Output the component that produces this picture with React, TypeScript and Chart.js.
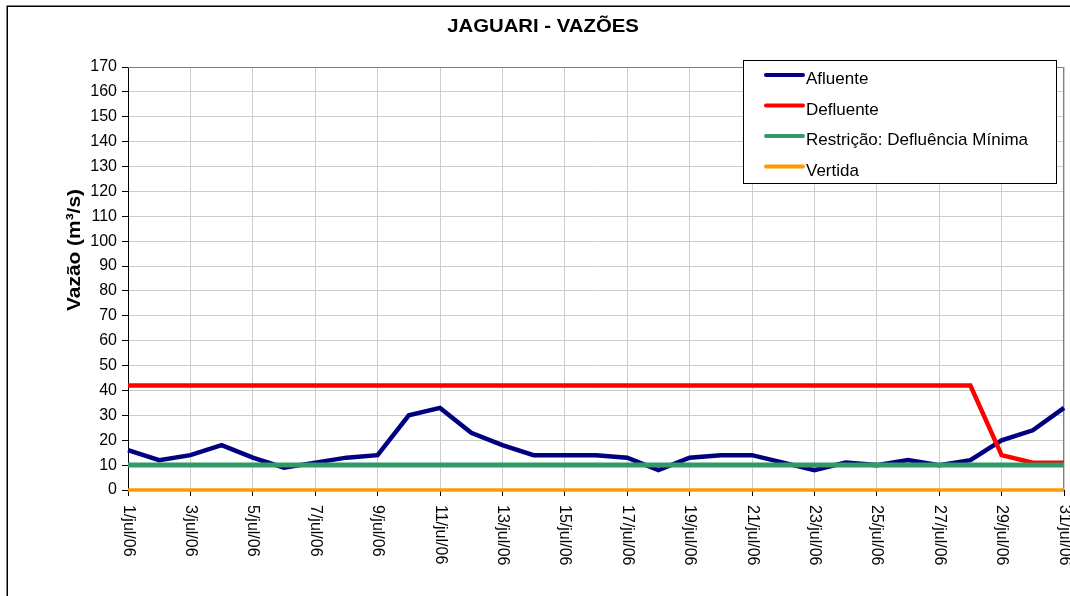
import React, { useEffect, useRef } from "react";
import { Chart, registerables } from "chart.js";

Chart.register(...registerables);

const TITLE = "JAGUARI - VAZÕES";
const Y_TITLE = "Vazão (m³/s)";

const dates = [
  "1/jul/06", "2/jul/06", "3/jul/06", "4/jul/06", "5/jul/06", "6/jul/06", "7/jul/06", "8/jul/06",
  "9/jul/06", "10/jul/06", "11/jul/06", "12/jul/06", "13/jul/06", "14/jul/06", "15/jul/06", "16/jul/06",
  "17/jul/06", "18/jul/06", "19/jul/06", "20/jul/06", "21/jul/06", "22/jul/06", "23/jul/06", "24/jul/06",
  "25/jul/06", "26/jul/06", "27/jul/06", "28/jul/06", "29/jul/06", "30/jul/06", "31/jul/06",
];

const afluente = [16, 12, 14, 18, 13, 9, 11, 13, 14, 30, 33, 23, 18, 14, 14, 14, 13, 8, 13, 14, 14, 11, 8, 11, 10, 12, 10, 12, 20, 24, 33];
const defluente = [42, 42, 42, 42, 42, 42, 42, 42, 42, 42, 42, 42, 42, 42, 42, 42, 42, 42, 42, 42, 42, 42, 42, 42, 42, 42, 42, 42, 14, 11, 11];
const restricao = [10, 10, 10, 10, 10, 10, 10, 10, 10, 10, 10, 10, 10, 10, 10, 10, 10, 10, 10, 10, 10, 10, 10, 10, 10, 10, 10, 10, 10, 10, 10];
const vertida = [0, 0, 0, 0, 0, 0, 0, 0, 0, 0, 0, 0, 0, 0, 0, 0, 0, 0, 0, 0, 0, 0, 0, 0, 0, 0, 0, 0, 0, 0, 0];

const seriesNames = ["Afluente", "Defluente", "Restrição: Defluência Mínima", "Vertida"];
const seriesColors = ["#000080", "#FF0000", "#339966", "#FF9900"];

const Y_MIN = 0;
const Y_MAX = 170;
const Y_STEP = 10;

const FONT = "'Liberation Sans', Arial, sans-serif";

function drawText(
  ctx: CanvasRenderingContext2D,
  text: string,
  x: number,
  y: number,
  opts: { font: string; align?: CanvasTextAlign; baseline?: CanvasTextBaseline; rotate?: number; scaleX?: number }
) {
  ctx.save();
  ctx.translate(x, y);
  if (opts.rotate) ctx.rotate(opts.rotate);
  if (opts.scaleX) ctx.scale(opts.scaleX, 1);
  ctx.font = opts.font;
  ctx.fillStyle = "#000";
  ctx.textAlign = opts.align || "left";
  ctx.textBaseline = opts.baseline || "alphabetic";
  ctx.fillText(text, 0, 0);
  ctx.restore();
}

const decorPlugin = {
  id: "decor",
  beforeDatasetsDraw(chart: any) {
    const { ctx, chartArea } = chart;
    ctx.save();
    ctx.strokeStyle = "#808080";
    ctx.lineWidth = 1;
    ctx.beginPath();
    ctx.moveTo(chartArea.left, chartArea.top + 0.5);
    ctx.lineTo(chartArea.right - 0.5, chartArea.top + 0.5);
    ctx.lineTo(chartArea.right - 0.5, chartArea.bottom);
    ctx.stroke();
    ctx.restore();
  },
  afterDraw(chart: any) {
    const { ctx } = chart;
    const xScale = chart.scales.x;

    // outer chart frame
    ctx.save();
    ctx.strokeStyle = "#000";
    ctx.lineWidth = 1.5;
    ctx.strokeRect(7.25, 6.25, 1100, 700);
    ctx.restore();

    // title
    drawText(ctx, TITLE, 543, 32, { font: `bold 18px ${FONT}`, align: "center", scaleX: 1.13 });

    // y axis title
    drawText(ctx, Y_TITLE, 80, 250, {
      font: `bold 19px ${FONT}`,
      align: "center",
      rotate: -Math.PI / 2,
      scaleX: 1.1,
    });

    // x tick labels (rotated downward)
    dates.forEach((d, i) => {
      if (i % 2 !== 0) return;
      const x = xScale.getPixelForValue(i);
      drawText(ctx, d, x, 505, { font: `16px ${FONT}`, align: "left", baseline: "middle", rotate: Math.PI / 2 });
    });

    // legend
    const lx = 743.5, ly = 60.5, lw = 313, lh = 123;
    ctx.save();
    ctx.fillStyle = "#fff";
    ctx.fillRect(lx, ly, lw, lh);
    ctx.strokeStyle = "#000";
    ctx.lineWidth = 1;
    ctx.strokeRect(lx, ly, lw, lh);
    ctx.restore();
    seriesNames.forEach((name, i) => {
      const yy = 75 + i * 30.5;
      ctx.save();
      ctx.strokeStyle = seriesColors[i];
      ctx.lineWidth = 4;
      ctx.lineCap = "round";
      ctx.beginPath();
      ctx.moveTo(766, yy);
      ctx.lineTo(803, yy);
      ctx.stroke();
      ctx.restore();
      drawText(ctx, name, 806, yy + 9, { font: `17px ${FONT}` });
    });
  },
};

export default function App() {
  const canvasRef = useRef<HTMLCanvasElement | null>(null);

  useEffect(() => {
    const canvas = canvasRef.current;
    if (!canvas) return;
    const seriesData = [afluente, defluente, restricao, vertida];
    const widths = [4.5, 4.5, 5, 3.5];
    const orders = [4, 3, 2, 1];
    const chart = new Chart(canvas, {
      type: "line",
      data: {
        labels: dates,
        datasets: seriesData.map((d, i) => ({
          label: seriesNames[i],
          data: d,
          borderColor: seriesColors[i],
          backgroundColor: seriesColors[i],
          borderWidth: widths[i],
          pointRadius: 0,
          pointHoverRadius: 0,
          tension: 0,
          fill: false,
          clip: false,
          order: orders[i],
        })),
      },
      options: {
        animation: false,
        responsive: false,
        devicePixelRatio: 1,
        layout: { padding: { top: 67, left: 8, right: 6, bottom: 0 } },
        plugins: {
          legend: { display: false },
          title: { display: false },
          tooltip: { enabled: false },
        },
        scales: {
          x: {
            type: "category",
            offset: false,
            ticks: { display: false, autoSkip: false },
            grid: {
              color: (c: any) => (c.index % 2 === 0 ? "#cccccc" : "rgba(0,0,0,0)"),
              tickColor: (c: any) => (c.index % 2 === 0 ? "#000000" : "rgba(0,0,0,0)"),
              tickLength: 6,
              drawTicks: true,
            },
            border: { color: "#000", width: 1 },
            afterFit: (s: any) => {
              s.height = 106;
            },
          },
          y: {
            min: Y_MIN,
            max: Y_MAX,
            ticks: {
              stepSize: Y_STEP,
              color: "#000",
              padding: 5,
              font: { family: FONT, size: 16 },
            },
            grid: {
              color: "#cccccc",
              tickColor: "#000",
              tickLength: 6,
            },
            border: { color: "#000", width: 1 },
            afterFit: (s: any) => {
              s.width = 120;
            },
          },
        },
      },
      plugins: [decorPlugin],
    });
    return () => chart.destroy();
  }, []);

  return (
    <div style={{ position: "fixed", left: 0, top: 0, width: 1070, height: 596, background: "#fff" }}>
      <canvas ref={canvasRef} width={1070} height={596} />
    </div>
  );
}
